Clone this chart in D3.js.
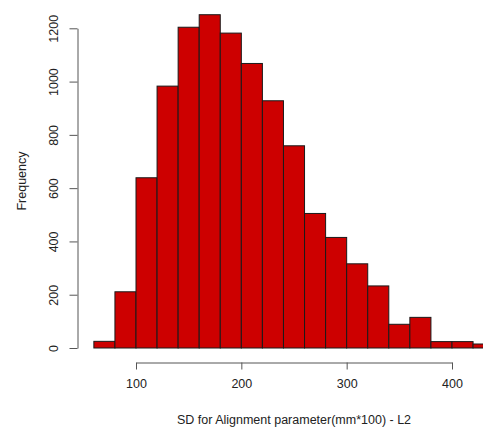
<!DOCTYPE html>
<html><head><meta charset="utf-8">
<script src="https://cdn.jsdelivr.net/npm/d3@7"></script>
<style>body{margin:0;background:#fff;}svg{display:block;}</style>
</head><body>
<script>
const binStarts = [60,80,100,120,140,160,180,200,220,240,260,280,300,320,340,360,380,400,420];
const binWidth = 20;
const counts = [25,211,639,983,1204,1251,1182,1068,928,759,505,415,316,233,89,115,24,24,15];
const xTicks = [100,200,300,400];
const yTicks = [0,200,400,600,800,1000,1200];
const xLabel = "SD for Alignment parameter(mm*100) - L2";
const yLabel = "Frequency";

const W = 483, H = 432;
const svg = d3.select("body").append("svg").attr("width", W).attr("height", H);
const x = d3.scaleLinear().domain([100,400]).range([136,452]);
const y = d3.scaleLinear().domain([0,1200]).range([348,28.3]);
const font = "'Liberation Sans', Arial, sans-serif";

svg.append("g").selectAll("rect").data(binStarts).join("rect")
  .attr("x", d => x(d))
  .attr("y", (d,i) => y(counts[i]))
  .attr("width", d => x(d+binWidth) - x(d))
  .attr("height", (d,i) => y(0) - y(counts[i]))
  .attr("fill", "#cd0000")
  .attr("stroke", "#1a1a1a")
  .attr("stroke-width", 1);

const gx = svg.append("g").attr("transform", "translate(0,362.5)")
  .call(d3.axisBottom(x).tickValues(xTicks).tickFormat(d3.format("d")).tickSize(7).tickPadding(10).tickSizeOuter(0));
gx.select(".domain").attr("stroke","#555");
gx.selectAll(".tick line").attr("stroke","#555");
gx.selectAll("text").attr("font-family", font).attr("font-size", 12.5).attr("fill","#222");

const gy = svg.append("g").attr("transform", "translate(77.5,0)")
  .call(d3.axisLeft(y).tickValues(yTicks).tickFormat(d3.format("d")).tickSize(8).tickSizeOuter(0));
gy.select(".domain").attr("stroke","#555");
gy.selectAll(".tick line").attr("stroke","#555");
gy.selectAll(".tick text")
  .attr("font-family", font).attr("font-size", 12.5).attr("fill","#222")
  .attr("x", null).attr("dy", null)
  .attr("transform", "translate(-24,0) rotate(-90)")
  .attr("text-anchor","middle").attr("dominant-baseline","central");

svg.append("text").attr("x", 294).attr("y", 424)
  .attr("text-anchor","middle").attr("font-family", font).attr("font-size", 12.5).attr("fill","#222")
  .text(xLabel);
svg.append("text").attr("transform","translate(26,181) rotate(-90)")
  .attr("text-anchor","middle").attr("font-family", font).attr("font-size", 12.5).attr("fill","#222")
  .text(yLabel);
</script>
</body></html>
